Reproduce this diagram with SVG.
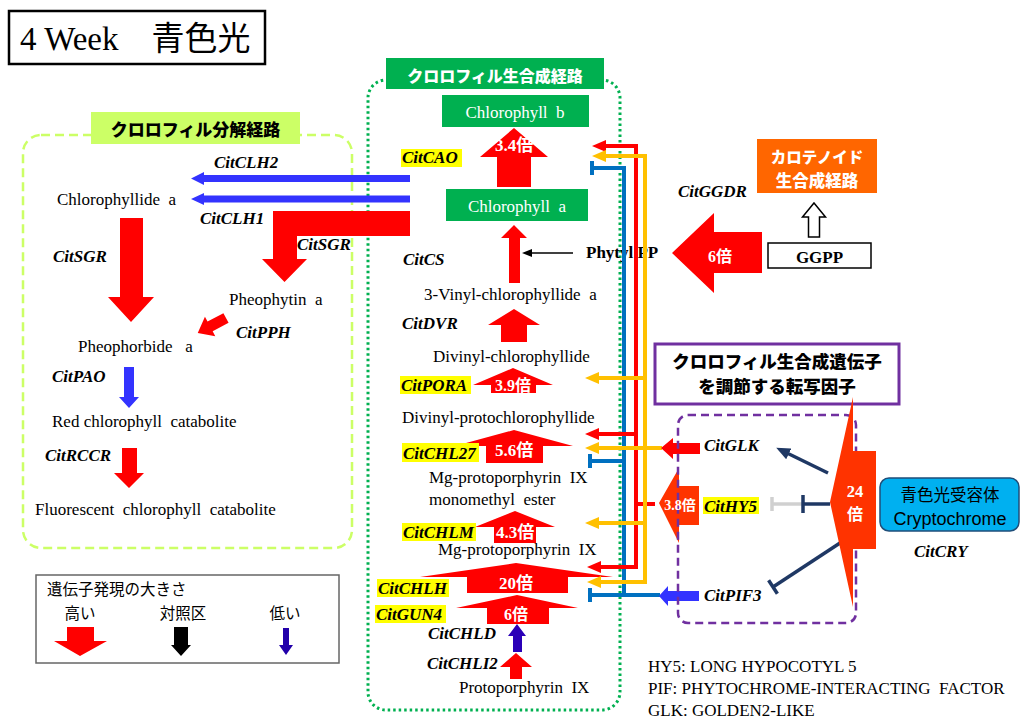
<svg xmlns="http://www.w3.org/2000/svg" width="1022" height="721" viewBox="0 0 1022 721">
<defs>
<style>
text{white-space:pre}
.s{font-family:"Liberation Serif",serif;font-size:17px;fill:#000}
.g{font-family:"Liberation Serif",serif;font-size:17px;font-weight:bold;font-style:italic;fill:#000}
.jb{font-family:"Noto Sans CJK JP",sans-serif;font-weight:900}
.jn{font-family:"Noto Sans CJK JP",sans-serif;font-weight:normal;font-size:15.5px;fill:#000}
.f{font-family:"Liberation Serif","Noto Sans CJK JP",serif;font-weight:bold;fill:#fff;text-anchor:middle}
.c{text-anchor:middle}
.hl{fill:#ffff00}
.red{fill:#ff0000}
.or{fill:#ff3300}
.blu{fill:#3333ff}
.ln{fill:none;stroke-width:4}
</style>
<marker id="mR" viewBox="0 0 14 12" refX="2" refY="6" markerWidth="14" markerHeight="12" markerUnits="userSpaceOnUse" orient="auto"><path d="M0,0L14,6L0,12z" fill="#ff0000"/></marker>
<marker id="mY" viewBox="0 0 14 12" refX="2" refY="6" markerWidth="14" markerHeight="12" markerUnits="userSpaceOnUse" orient="auto"><path d="M0,0L14,6L0,12z" fill="#ffc000"/></marker>
<marker id="mN" viewBox="0 0 14 12" refX="2" refY="6" markerWidth="14" markerHeight="12" markerUnits="userSpaceOnUse" orient="auto"><path d="M0,0L14,6L0,12z" fill="#1f3864"/></marker>
<marker id="mK" viewBox="0 0 10 8" refX="1" refY="4" markerWidth="10" markerHeight="8" markerUnits="userSpaceOnUse" orient="auto"><path d="M0,0L10,4L0,8z" fill="#000"/></marker>
</defs>
<rect width="1022" height="721" fill="#fff"/>

<g id="title">
<rect x="9" y="11" width="256" height="53" fill="#fff" stroke="#000" stroke-width="2.5"/>
<text x="20" y="50" style="font-family:'Liberation Serif','Noto Sans CJK JP',serif;font-size:33px">4 Week　青色光</text>
</g>

<g id="degradation-box">
<rect x="23" y="135" width="329" height="413" rx="18" fill="none" stroke="#ccff66" stroke-width="2.5" stroke-dasharray="9 5"/>
<rect x="91" y="112" width="209" height="32" fill="#ccff66"/>
<text class="jb c" x="195.5" y="136" font-size="17">クロロフィル分解経路</text>
</g>

<g id="synthesis-box">
<rect x="368" y="80" width="252" height="630" rx="18" fill="none" stroke="#00b050" stroke-width="3" stroke-dasharray="2.5 3"/>
<rect x="386" y="58" width="218" height="31" fill="#00b050"/>
<text class="jb c" x="495" y="82" font-size="16" fill="#fff">クロロフィル生合成経路</text>
</g>

<g id="chlorophyll-b">
<rect x="442" y="95" width="147" height="32" fill="#00b050"/>
<text class="s c" x="515" y="118" font-size="17.5" style="fill:#fff">Chlorophyll  b</text>
</g>
<g id="chlorophyll-a">
<rect x="446" y="189" width="142" height="32" fill="#00b050"/>
<text class="s c" x="517" y="212" font-size="17.5" style="fill:#fff">Chlorophyll  a</text>
</g>

<g id="phytylpp"><text class="s" x="586" y="258" font-weight="bold" font-size="17.5">Phytyl PP</text></g>

<g id="legend-abbrev">
<text class="s" x="648" y="672" font-size="15.5">HY5: LONG HYPOCOTYL 5</text>
<text class="s" x="648" y="694" font-size="15.5">PIF: PHYTOCHROME-INTERACTING  FACTOR</text>
<text class="s" x="648" y="716" font-size="15.5">GLK: GOLDEN2-LIKE</text>
</g>

<g id="connectors">
<polygon class="blu" points="410,175 204,175 204,172 191,178.5 204,185 204,182 410,182"/>
<polygon class="blu" points="410,195.5 204,195.5 204,193 191,199 204,205 204,202.5 410,202.5"/>
<polygon class="red" points="410,211 410,236 297,236 297,259 307,259 284.5,282 262,259 273,259 273,211"/>
<polygon class="red" points="120,218 143,218 143,297 154,297 131,322 108,297 120,297"/>
<polygon class="red" points="0,-5.5 18,-5.5 18,-11 32,0 18,11 18,5.5 0,5.5" transform="translate(226,318) rotate(152)"/>
<polygon class="blu" points="124,367 134,367 134,397 139,397 129,408 119,397 124,397"/>
<polygon class="red" points="122,448 137,448 137,473 144,473 129,488 114,473 122,473"/>
<polygon class="red" points="514,128 548,157 531,157 531,187 497,187 497,157 480,157"/>
<polygon class="red" points="514,225 527,238 520,238 520,283 509,283 509,238 501,238"/>
<polygon class="red" points="514,309 540,325 527,325 527,342 501,342 501,325 488,325"/>
<polygon class="red" points="513,368 553,385 536,385 536,393 491,393 491,385 473,385"/>
<polygon class="red" points="514,430 573,446 543,446 543,463 486,463 486,446 455,446"/>
<polygon class="red" points="515,511 555,527 536,527 536,543 494,543 494,527 475,527"/>
<polygon class="red" points="516,563 613,577 568,577 568,593 467,593 467,577 420,577"/>
<polygon class="red" points="517,595 578,608 549,608 549,624 487,624 487,608 456,608"/>
<polygon fill="#2a00b8" points="517,624 526,636 522,636 522,652 513,652 513,636 508,636"/>
<polygon class="red" points="516,653 532,667 522,667 522,679 510,679 510,667 500,667"/>
<line x1="573" y1="253" x2="531" y2="253" stroke="#000" stroke-width="1.3" marker-end="url(#mK)"/>
<polygon class="red" points="672,253 714,213 714,232 762,232 762,273 714,273 714,293"/>
<polygon points="814,203 825.5,217 819.5,217 819.5,237 808.5,237 808.5,217 802.5,217" fill="#fff" stroke="#000" stroke-width="1.5"/>
<path class="ln" d="M624,168V595" stroke="#0070c0" stroke-linecap="square"/>
<path class="ln" d="M624,168H592M624,461H590M660,595H590" stroke="#0070c0"/>
<path d="M592,161V175M590,454V468M590,588V602" stroke="#0070c0" stroke-width="4" fill="none"/>
<path class="ln" d="M636,146V567" stroke="#ff0000" stroke-linecap="square"/>
<path class="ln" d="M655,504H636" stroke="#ff0000"/>
<path class="ln" d="M636,146H604" stroke="#ff0000" marker-end="url(#mR)"/>
<path class="ln" d="M636,434H597" stroke="#ff0000" marker-end="url(#mR)"/>
<path class="ln" d="M636,567H599" stroke="#ff0000" marker-end="url(#mR)"/>
<path class="ln" d="M645,156V582" stroke="#ffc000" stroke-linecap="square"/>
<path class="ln" d="M645,156H604" stroke="#ffc000" marker-end="url(#mY)"/>
<path class="ln" d="M645,378H597" stroke="#ffc000" marker-end="url(#mY)"/>
<path class="ln" d="M662,448H597" stroke="#ffc000" marker-end="url(#mY)"/>
<path class="ln" d="M645,523H597" stroke="#ffc000" marker-end="url(#mY)"/>
<path class="ln" d="M645,582H599" stroke="#ffc000" marker-end="url(#mY)"/>
<polygon class="red" points="661,448 673,438 673,443 700,443 700,454 673,454 673,459"/>
<polygon class="or" points="659,503 679,468 679,486 699,486 699,525 679,525 679,543"/>
<polygon class="blu" points="659,596 668,586 668,591 699,591 699,601 668,601 668,606"/>
<line x1="828" y1="473" x2="787" y2="453" stroke="#1f3864" stroke-width="3.5" marker-end="url(#mN)"/>
<line x1="840" y1="543" x2="773" y2="587" stroke="#1f3864" stroke-width="3.5"/>
<line x1="777.4" y1="593.7" x2="768.6" y2="580.3" stroke="#1f3864" stroke-width="3.5"/>
<line x1="803" y1="504" x2="772" y2="504" stroke="#d0d0d0" stroke-width="3.5"/>
<line x1="772" y1="497" x2="772" y2="511" stroke="#d0d0d0" stroke-width="3.5"/>
<line x1="830" y1="504" x2="803" y2="504" stroke="#1f3864" stroke-width="3.5"/>
<line x1="803" y1="495" x2="803" y2="513" stroke="#1f3864" stroke-width="3.5"/>
</g>

<g id="degradation-labels">
<text class="g" x="214" y="168">CitCLH2</text>
<text class="s" x="57" y="205">Chlorophyllide  a</text>
<text class="g" x="200" y="224">CitCLH1</text>
<text class="g" x="297" y="250">CitSGR</text>
<text class="g" x="53" y="262">CitSGR</text>
<text class="s" x="229" y="305">Pheophytin  a</text>
<text class="g" x="236" y="338">CitPPH</text>
<text class="s" x="78" y="352">Pheophorbide   a</text>
<text class="g" x="52" y="382">CitPAO</text>
<text class="s" x="52" y="427">Red chlorophyll  catabolite</text>
<text class="g" x="45" y="461">CitRCCR</text>
<text class="s" x="35" y="515">Fluorescent  chlorophyll  catabolite</text>
</g>

<g id="synthesis-labels">
<rect class="hl" x="401" y="149" width="61" height="18"/>
<text class="g" x="402" y="163">CitCAO</text>
<text class="f" x="514" y="151" font-size="17">3.4倍</text>
<text class="g" x="403" y="265">CitCS</text>
<text class="s" x="424" y="300">3-Vinyl-chlorophyllide  a</text>
<text class="g" x="402" y="329">CitDVR</text>
<text class="s" x="433" y="362">Divinyl-chlorophyllide</text>
<rect class="hl" x="400" y="376" width="71" height="18"/>
<text class="g" x="401" y="391">CitPORA</text>
<text class="f" x="513" y="391" font-size="16">3.9倍</text>
<text class="s" x="402" y="423">Divinyl-protochlorophyllide</text>
<rect class="hl" x="402" y="443" width="77" height="19"/>
<text class="g" x="403" y="459">CitCHL27</text>
<text class="f" x="514" y="456" font-size="17">5.6倍</text>
<text class="s" x="429" y="483">Mg-protoporphyrin  IX</text>
<text class="s" x="429" y="505">monomethyl  ester</text>
<rect class="hl" x="402" y="523" width="74" height="18"/>
<text class="g" x="403" y="538">CitCHLM</text>
<text class="f" x="515" y="538" font-size="17">4.3倍</text>
<text class="s" x="438" y="555">Mg-protoporphyrin  IX</text>
<rect class="hl" x="377" y="579" width="72" height="18"/>
<text class="g" x="378" y="594">CitCHLH</text>
<text class="f" x="516" y="589" font-size="17">20倍</text>
<rect class="hl" x="375" y="605" width="71" height="18"/>
<text class="g" x="376" y="620">CitGUN4</text>
<text class="f" x="516" y="620" font-size="16">6倍</text>
<text class="g" x="428" y="639">CitCHLD</text>
<text class="g" x="427" y="669">CitCHLI2</text>
<text class="s" x="459" y="693">Protoporphyrin  IX</text>
</g>

<g id="carotenoid">
<text class="g" x="678" y="197">CitGGDR</text>
<rect x="757" y="139" width="120" height="54" fill="#ff6600"/>
<text class="jb c" x="817" y="163" font-size="15.5" fill="#fff">カロテノイド</text>
<text class="jb c" x="817" y="187" font-size="16.5" fill="#fff">生合成経路</text>
<text class="f" x="720" y="262" font-size="16">6倍</text>
</g>
<g id="ggpp">
<rect x="768" y="243" width="103" height="25" fill="#fff" stroke="#000" stroke-width="1.5"/>
<text class="s c" x="819.5" y="263" font-size="21" font-weight="bold">GGPP</text>
</g>

<g id="tf-title">
<rect x="655" y="344" width="244" height="60" fill="#fff" stroke="#7030a0" stroke-width="3"/>
<text class="jb c" x="777" y="368" font-size="17.5">クロロフィル生合成遺伝子</text>
<text class="jb c" x="777" y="393" font-size="17.5">を調節する転写因子</text>
</g>

<g id="tf-box">
<rect x="678" y="415" width="178" height="208" rx="10" fill="none" stroke="#7030a0" stroke-width="2.5" stroke-dasharray="8 5"/>
<text class="g" x="704" y="451">CitGLK</text>
<rect class="hl" x="703" y="497" width="56" height="17"/>
<text class="g" x="704" y="512">CitHY5</text>
<text class="f" x="680" y="510" font-size="14">3.8倍</text>
<text class="g" x="704" y="601">CitPIF3</text>
</g>

<g id="cry-arrow">
<polygon class="or" points="853,397 853,451 876,451 876,549 853,549 853,607 830,502"/>
<text class="f" x="855" y="497" font-size="16.5">24</text>
<text class="f" x="855" y="520" font-size="16">倍</text>
</g>

<g id="cryptochrome">
<rect x="880" y="478" width="139" height="53" rx="9" fill="#00b0f0" stroke="#1f4e79" stroke-width="1.5"/>
<text class="c" x="950" y="501" style="font-family:'Noto Sans CJK JP',sans-serif;font-size:16.5px">青色光受容体</text>
<text class="c" x="950" y="525" style="font-family:'Liberation Sans',sans-serif;font-size:18px">Cryptochrome</text>
<text class="g" x="914" y="557">CitCRY</text>
</g>

<g id="legend">
<rect x="36" y="575" width="303" height="88" fill="#fff" stroke="#666" stroke-width="1.5"/>
<text class="jn" x="47" y="595">遺伝子発現の大きさ</text>
<text class="jn c" x="80" y="619">高い</text>
<text class="jn c" x="183" y="619">対照区</text>
<text class="jn c" x="285" y="619">低い</text>
<polygon class="red" points="67,627 94,627 94,641 107,641 80,656 54,641 67,641"/>
<polygon fill="#000" points="174,627 188,627 188,645 191,645 181,656 171,645 174,645"/>
<polygon fill="#2200aa" points="283,628 289,628 289,645 293,645 286,655 279,645 283,645"/>
</g>
</svg>
